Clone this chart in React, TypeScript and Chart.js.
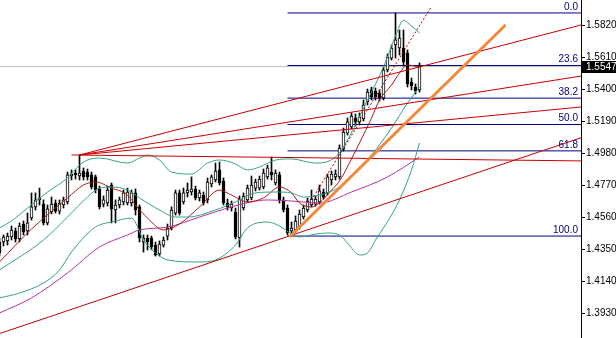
import { useEffect, useRef } from 'react';
import { Chart, registerables } from 'chart.js';

Chart.register(...registerables);

// ---- candle data (index 0..105) ----
const opens = [
  1.4396, 1.4396, 1.4403, 1.4429, 1.4468, 1.4416, 1.4514, 1.4468, 1.4554, 1.4626,
  1.4672, 1.4645, 1.4521, 1.4593, 1.4652, 1.4599, 1.4639, 1.4659, 1.4829, 1.4849,
  1.4829, 1.4862, 1.4855, 1.4836, 1.4823, 1.4744, 1.4645, 1.4652, 1.4770, 1.4606,
  1.4639, 1.4659, 1.4652, 1.4652, 1.4718, 1.4626, 1.4396, 1.4422, 1.4422, 1.4376,
  1.4317, 1.4376, 1.4435, 1.4488, 1.4586, 1.4718, 1.4659, 1.4718, 1.4724, 1.4744,
  1.4685, 1.4704, 1.4672, 1.4777, 1.4803, 1.4869, 1.4796, 1.4652, 1.4619, 1.4593,
  1.4422, 1.4619, 1.4672, 1.4685, 1.4750, 1.4750, 1.4757, 1.4823, 1.4855, 1.4783,
  1.4836, 1.4672, 1.4619, 1.4468, 1.4475, 1.4494, 1.4560, 1.4606, 1.4639, 1.4645,
  1.4659, 1.4724, 1.4718, 1.4803, 1.4823, 1.4823, 1.5006, 1.5111, 1.5151, 1.5210,
  1.5184, 1.5203, 1.5315, 1.5394, 1.5387, 1.5374, 1.5341, 1.5525, 1.5603, 1.5689,
  1.5669, 1.5669, 1.5636, 1.5446, 1.5413, 1.5394,
];
const highs = [
  1.4422, 1.4442, 1.4455, 1.4501, 1.4488, 1.4521, 1.4534, 1.4586, 1.4718, 1.4718,
  1.4750, 1.4672, 1.4639, 1.4691, 1.4672, 1.4672, 1.4691, 1.4855, 1.4869, 1.4869,
  1.4967, 1.4882, 1.4875, 1.4855, 1.4836, 1.4763, 1.4698, 1.4763, 1.4783, 1.4672,
  1.4691, 1.4737, 1.4750, 1.4737, 1.4744, 1.4639, 1.4442, 1.4442, 1.4435, 1.4396,
  1.4403, 1.4429, 1.4514, 1.4626, 1.4737, 1.4737, 1.4750, 1.4783, 1.4823, 1.4763,
  1.4737, 1.4724, 1.4816, 1.4836, 1.4914, 1.4921, 1.4816, 1.4678, 1.4665, 1.4619,
  1.4698, 1.4718, 1.4770, 1.4829, 1.4809, 1.4829, 1.4875, 1.4901, 1.4954, 1.4869,
  1.4855, 1.4691, 1.4639, 1.4527, 1.4567, 1.4606, 1.4639, 1.4685, 1.4737, 1.4698,
  1.4770, 1.4744, 1.4842, 1.4862, 1.4869, 1.5033, 1.5144, 1.5210, 1.5243, 1.5236,
  1.5243, 1.5328, 1.5400, 1.5413, 1.5407, 1.5394, 1.5544, 1.5630, 1.5689, 1.5899,
  1.5787, 1.5787, 1.5656, 1.5472, 1.5433, 1.5571,
];
const lows = [
  1.4304, 1.4370, 1.4376, 1.4409, 1.4396, 1.4396, 1.4442, 1.4442, 1.4540, 1.4606,
  1.4639, 1.4508, 1.4508, 1.4580, 1.4586, 1.4580, 1.4619, 1.4645, 1.4803, 1.4809,
  1.4803, 1.4803, 1.4803, 1.4744, 1.4718, 1.4613, 1.4626, 1.4632, 1.4521, 1.4521,
  1.4619, 1.4639, 1.4639, 1.4632, 1.4573, 1.4396, 1.4330, 1.4344, 1.4344, 1.4304,
  1.4304, 1.4363, 1.4409, 1.4475, 1.4573, 1.4573, 1.4645, 1.4691, 1.4704, 1.4672,
  1.4665, 1.4639, 1.4652, 1.4757, 1.4790, 1.4770, 1.4639, 1.4606, 1.4599, 1.4416,
  1.4363, 1.4606, 1.4659, 1.4672, 1.4731, 1.4737, 1.4744, 1.4809, 1.4803, 1.4770,
  1.4652, 1.4593, 1.4442, 1.4435, 1.4462, 1.4481, 1.4547, 1.4593, 1.4626, 1.4632,
  1.4645, 1.4678, 1.4704, 1.4770, 1.4803, 1.4809, 1.4993, 1.5098, 1.5138, 1.5157,
  1.5164, 1.5190, 1.5295, 1.5328, 1.5328, 1.5321, 1.5328, 1.5512, 1.5590, 1.5603,
  1.5623, 1.5551, 1.5413, 1.5394, 1.5367, 1.5380,
];
const closes = [
  1.4324, 1.4429, 1.4435, 1.4475, 1.4416, 1.4501, 1.4462, 1.4521, 1.4626, 1.4672,
  1.4685, 1.4521, 1.4613, 1.4645, 1.4599, 1.4652, 1.4672, 1.4836, 1.4842, 1.4836,
  1.4849, 1.4823, 1.4823, 1.4757, 1.4737, 1.4626, 1.4672, 1.4737, 1.4613, 1.4639,
  1.4672, 1.4718, 1.4724, 1.4718, 1.4606, 1.4422, 1.4422, 1.4396, 1.4363, 1.4311,
  1.4383, 1.4409, 1.4488, 1.4606, 1.4718, 1.4586, 1.4718, 1.4737, 1.4744, 1.4685,
  1.4718, 1.4652, 1.4790, 1.4823, 1.4862, 1.4783, 1.4652, 1.4626, 1.4645, 1.4429,
  1.4678, 1.4698, 1.4750, 1.4770, 1.4790, 1.4809, 1.4849, 1.4882, 1.4836, 1.4849,
  1.4672, 1.4606, 1.4455, 1.4488, 1.4534, 1.4580, 1.4619, 1.4665, 1.4678, 1.4678,
  1.4731, 1.4691, 1.4823, 1.4842, 1.4842, 1.5013, 1.5118, 1.5184, 1.5223, 1.5184,
  1.5216, 1.5295, 1.5380, 1.5348, 1.5348, 1.5341, 1.5525, 1.5610, 1.5669, 1.5722,
  1.5735, 1.5577, 1.5433, 1.5420, 1.5387, 1.5547,
];

// ---- indicator readings: [candle index, price] ----
const upperBand = [
  [0, 1.4488], [3, 1.4534], [7, 1.4619], [12, 1.4724], [17, 1.4816], [20, 1.4901],
  [22, 1.4934], [25, 1.4947], [32, 1.4914], [35, 1.4947], [37, 1.4967], [40, 1.4934],
  [43, 1.4855], [48, 1.4842], [52, 1.4914], [55, 1.4934], [59, 1.4908], [62, 1.4869],
  [65, 1.4888], [69, 1.4934], [73, 1.4941], [79, 1.4914], [84, 1.4954], [87, 1.5065],
  [92, 1.5328], [96, 1.5544], [99, 1.5748], [101, 1.5850], [103, 1.5813], [105, 1.5768],
];
const middleBand = [
  [0, 1.4212], [11, 1.4409], [17, 1.4560], [22, 1.4691], [25, 1.4750], [28, 1.4757],
  [32, 1.4737], [35, 1.4685], [40, 1.4606], [44, 1.4560], [47, 1.4560], [54, 1.4606],
  [59, 1.4659], [64, 1.4718], [69, 1.4724], [73, 1.4718], [76, 1.4691], [80, 1.4704],
  [85, 1.4757], [89, 1.4855], [93, 1.4967], [98, 1.5144], [102, 1.5308], [105, 1.5413],
];
const lowerBand = [
  [0, 1.4029], [5, 1.4061], [11, 1.4127], [15, 1.4212], [18, 1.4330], [23, 1.4475],
  [25, 1.4508], [28, 1.4527], [33, 1.4553], [36, 1.4409], [39, 1.4324], [42, 1.4278],
  [50, 1.4265], [54, 1.4278], [59, 1.4376], [62, 1.4488], [67, 1.4527], [70, 1.4501],
  [73, 1.4448], [75, 1.4429], [79, 1.4448], [82, 1.4455], [85, 1.4442], [87, 1.4389],
  [90, 1.4311], [92, 1.4324], [94, 1.4409], [98, 1.4573], [100, 1.4672], [103, 1.4869],
  [105, 1.5046],
];
const fastMA = [
  [0, 1.4265], [8, 1.4481], [17, 1.4685], [21, 1.4770], [24, 1.4790], [28, 1.4750],
  [32, 1.4704], [34, 1.4639], [37, 1.4553], [41, 1.4475], [45, 1.4514], [50, 1.4626],
  [55, 1.4737], [58, 1.4704], [62, 1.4659], [66, 1.4685], [70, 1.4757], [73, 1.4718],
  [75, 1.4652], [78, 1.4626], [80, 1.4652], [83, 1.4737], [85, 1.4796], [88, 1.4941],
  [90, 1.5046], [93, 1.5210], [95, 1.5328], [98, 1.5426], [100, 1.5505], [102, 1.5557],
  [105, 1.5544],
];
const slowMA = [
  [0, 1.3930], [8, 1.4029], [17, 1.4193], [25, 1.4363], [32, 1.4442], [35, 1.4475],
  [42, 1.4494], [50, 1.4560], [57, 1.4619], [63, 1.4659], [67, 1.4672], [73, 1.4665],
  [80, 1.4652], [88, 1.4724], [97, 1.4823], [105, 1.4954],
];

// ---- drawn objects: [start index, start price, end index, end price] ----
const fanLines = [
  [20, 1.4967, 145.375, 1.5820],
  [20, 1.4967, 145.375, 1.5485],
  [20, 1.4967, 145.375, 1.5282],
  [18, 1.4967, 145.375, 1.4928],
];
const supportLine = [0.125, 1.3796, 145.375, 1.5080];
const orangeTrend = [72.5, 1.4429, 126.5, 1.5820];
const dottedTrend = [78, 1.4672, 107.75, 1.5932];

const fibLevels = [1.5899, 1.5554, 1.5340, 1.5167, 1.4994, 1.4435];
const fibLabels = ['0.0', '23.6', '38.2', '50.0', '61.8', '100.0'];
const fibStart = 72;
const lastPrice = 1.5547;
const yTicks = [1.393, 1.414, 1.435, 1.456, 1.477, 1.498, 1.519, 1.54, 1.561, 1.582];

const X_MIN = 0.125;
const X_MAX = 145.375;
const Y_MIN = 1.3766;
const Y_MAX = 1.59841;

const FONT = '"Liberation Sans", Arial, sans-serif';

const overlayPlugin = {
  id: 'overlay',
  afterDraw(chart: any) {
    const { ctx, chartArea } = chart;
    const y = chart.scales.y;
    ctx.save();
    ctx.font = `10px ${FONT}`;
    ctx.fillStyle = '#000080';
    ctx.textAlign = 'right';
    ctx.textBaseline = 'bottom';
    fibLevels.forEach((lv, k) => {
      const py = y.getPixelForValue(lv);
      ctx.fillText(fibLabels[k], chartArea.right - 3, py - 1);
    });
    const py = Math.round(y.getPixelForValue(lastPrice));
    ctx.fillStyle = '#000';
    ctx.fillRect(chartArea.right + 1, py - 6, chart.width - chartArea.right - 1, 12);
    ctx.fillStyle = '#fff';
    ctx.textAlign = 'left';
    ctx.textBaseline = 'middle';
    ctx.fillText(lastPrice.toFixed(4), chartArea.right + 5, py + 0.5);
    ctx.restore();
  },
};

const seg = (s: number[]) => [
  { x: s[0], y: s[1] },
  { x: s[2], y: s[3] },
];
const pts = (arr: number[][]) => arr.map(([x, y]) => ({ x, y }));

export default function App() {
  const ref = useRef<HTMLCanvasElement>(null);

  useEffect(() => {
    document.body.style.margin = '0';
    const canvas = ref.current;
    if (!canvas) return;

    const idx = opens.map((_, i) => i);
    const up = idx.map((i) => closes[i] >= opens[i]);

    const lineBase = {
      type: 'line' as const,
      pointRadius: 0,
      borderWidth: 1,
      fill: false,
    };

    const datasets: any[] = [
      {
        ...lineBase,
        label: 'orange',
        data: seg(orangeTrend),
        borderColor: '#f5873a',
        borderWidth: 3,
        order: 0,
      },
      ...fanLines.map((l, k) => ({
        ...lineBase,
        label: 'fan' + k,
        data: seg(l),
        borderColor: '#c80000',
        order: 1,
      })),
      {
        ...lineBase,
        label: 'support',
        data: seg(supportLine),
        borderColor: '#c00000',
        order: 1,
      },
      {
        ...lineBase,
        label: 'dotted',
        data: seg(dottedTrend),
        borderColor: '#b00000',
        borderDash: [2, 2],
        order: 1,
      },
      {
        ...lineBase,
        label: 'ub',
        data: pts(upperBand),
        borderColor: '#34a088',
        cubicInterpolationMode: 'monotone',
        order: 2,
      },
      {
        ...lineBase,
        label: 'mb',
        data: pts(middleBand),
        borderColor: '#34a088',
        cubicInterpolationMode: 'monotone',
        order: 2,
      },
      {
        ...lineBase,
        label: 'lb',
        data: pts(lowerBand),
        borderColor: '#34a088',
        cubicInterpolationMode: 'monotone',
        order: 2,
      },
      {
        ...lineBase,
        label: 'ma',
        data: pts(fastMA),
        borderColor: '#a81818',
        cubicInterpolationMode: 'monotone',
        order: 2,
      },
      {
        ...lineBase,
        label: 'ma2',
        data: pts(slowMA),
        borderColor: '#b8309f',
        cubicInterpolationMode: 'monotone',
        order: 2,
      },
      {
        type: 'bar',
        label: 'body',
        data: idx.map((i) => ({ x: i, y: [opens[i], closes[i]] })),
        backgroundColor: idx.map((i) => (up[i] ? '#ffffff' : '#000000')),
        borderColor: '#000000',
        borderWidth: 1,
        borderSkipped: false,
        barThickness: 3,
        grouped: false,
        order: 3,
      },
      {
        type: 'bar',
        label: 'wick',
        data: idx.map((i) => ({ x: i, y: [lows[i], highs[i]] })),
        backgroundColor: '#000000',
        borderWidth: 0,
        barThickness: 1,
        grouped: false,
        order: 4,
      },
      ...fibLevels.map((lv, k) => ({
        ...lineBase,
        label: 'fib' + k,
        data: [
          { x: fibStart, y: lv },
          { x: X_MAX, y: lv },
        ],
        borderColor: '#000080',
        order: 5,
      })),
      {
        ...lineBase,
        label: 'last',
        data: [
          { x: X_MIN, y: lastPrice },
          { x: X_MAX, y: lastPrice },
        ],
        borderColor: '#c0c0c0',
        order: 6,
      },
    ];

    const chart = new Chart(canvas, {
      type: 'bar',
      data: { datasets },
      plugins: [overlayPlugin],
      options: {
        animation: false,
        responsive: false,
        maintainAspectRatio: false,
        layout: { padding: 0 },
        events: [],
        plugins: {
          legend: { display: false },
          tooltip: { enabled: false },
        },
        scales: {
          x: {
            type: 'linear',
            min: X_MIN,
            max: X_MAX,
            display: false,
            offset: false,
          },
          y: {
            type: 'linear',
            position: 'right',
            min: Y_MIN,
            max: Y_MAX,
            afterBuildTicks: (s: any) => {
              s.ticks = yTicks.map((v) => ({ value: v }));
            },
            afterFit: (s: any) => {
              s.width = 35;
              s.paddingTop = 0;
              s.paddingBottom = 0;
            },
            grid: {
              drawOnChartArea: false,
              drawTicks: true,
              tickLength: 4,
              color: '#000000',
            },
            border: { display: true, color: '#000000', width: 1 },
            ticks: {
              color: '#000000',
              padding: 1,
              font: { family: FONT, size: 10 },
              callback: (v: any) => Number(v).toFixed(4),
            },
          },
        },
      } as any,
    } as any);

    return () => chart.destroy();
  }, []);

  return (
    <canvas
      ref={ref}
      width={616}
      height={338}
      style={{ display: 'block', width: 616, height: 338 }}
    />
  );
}
